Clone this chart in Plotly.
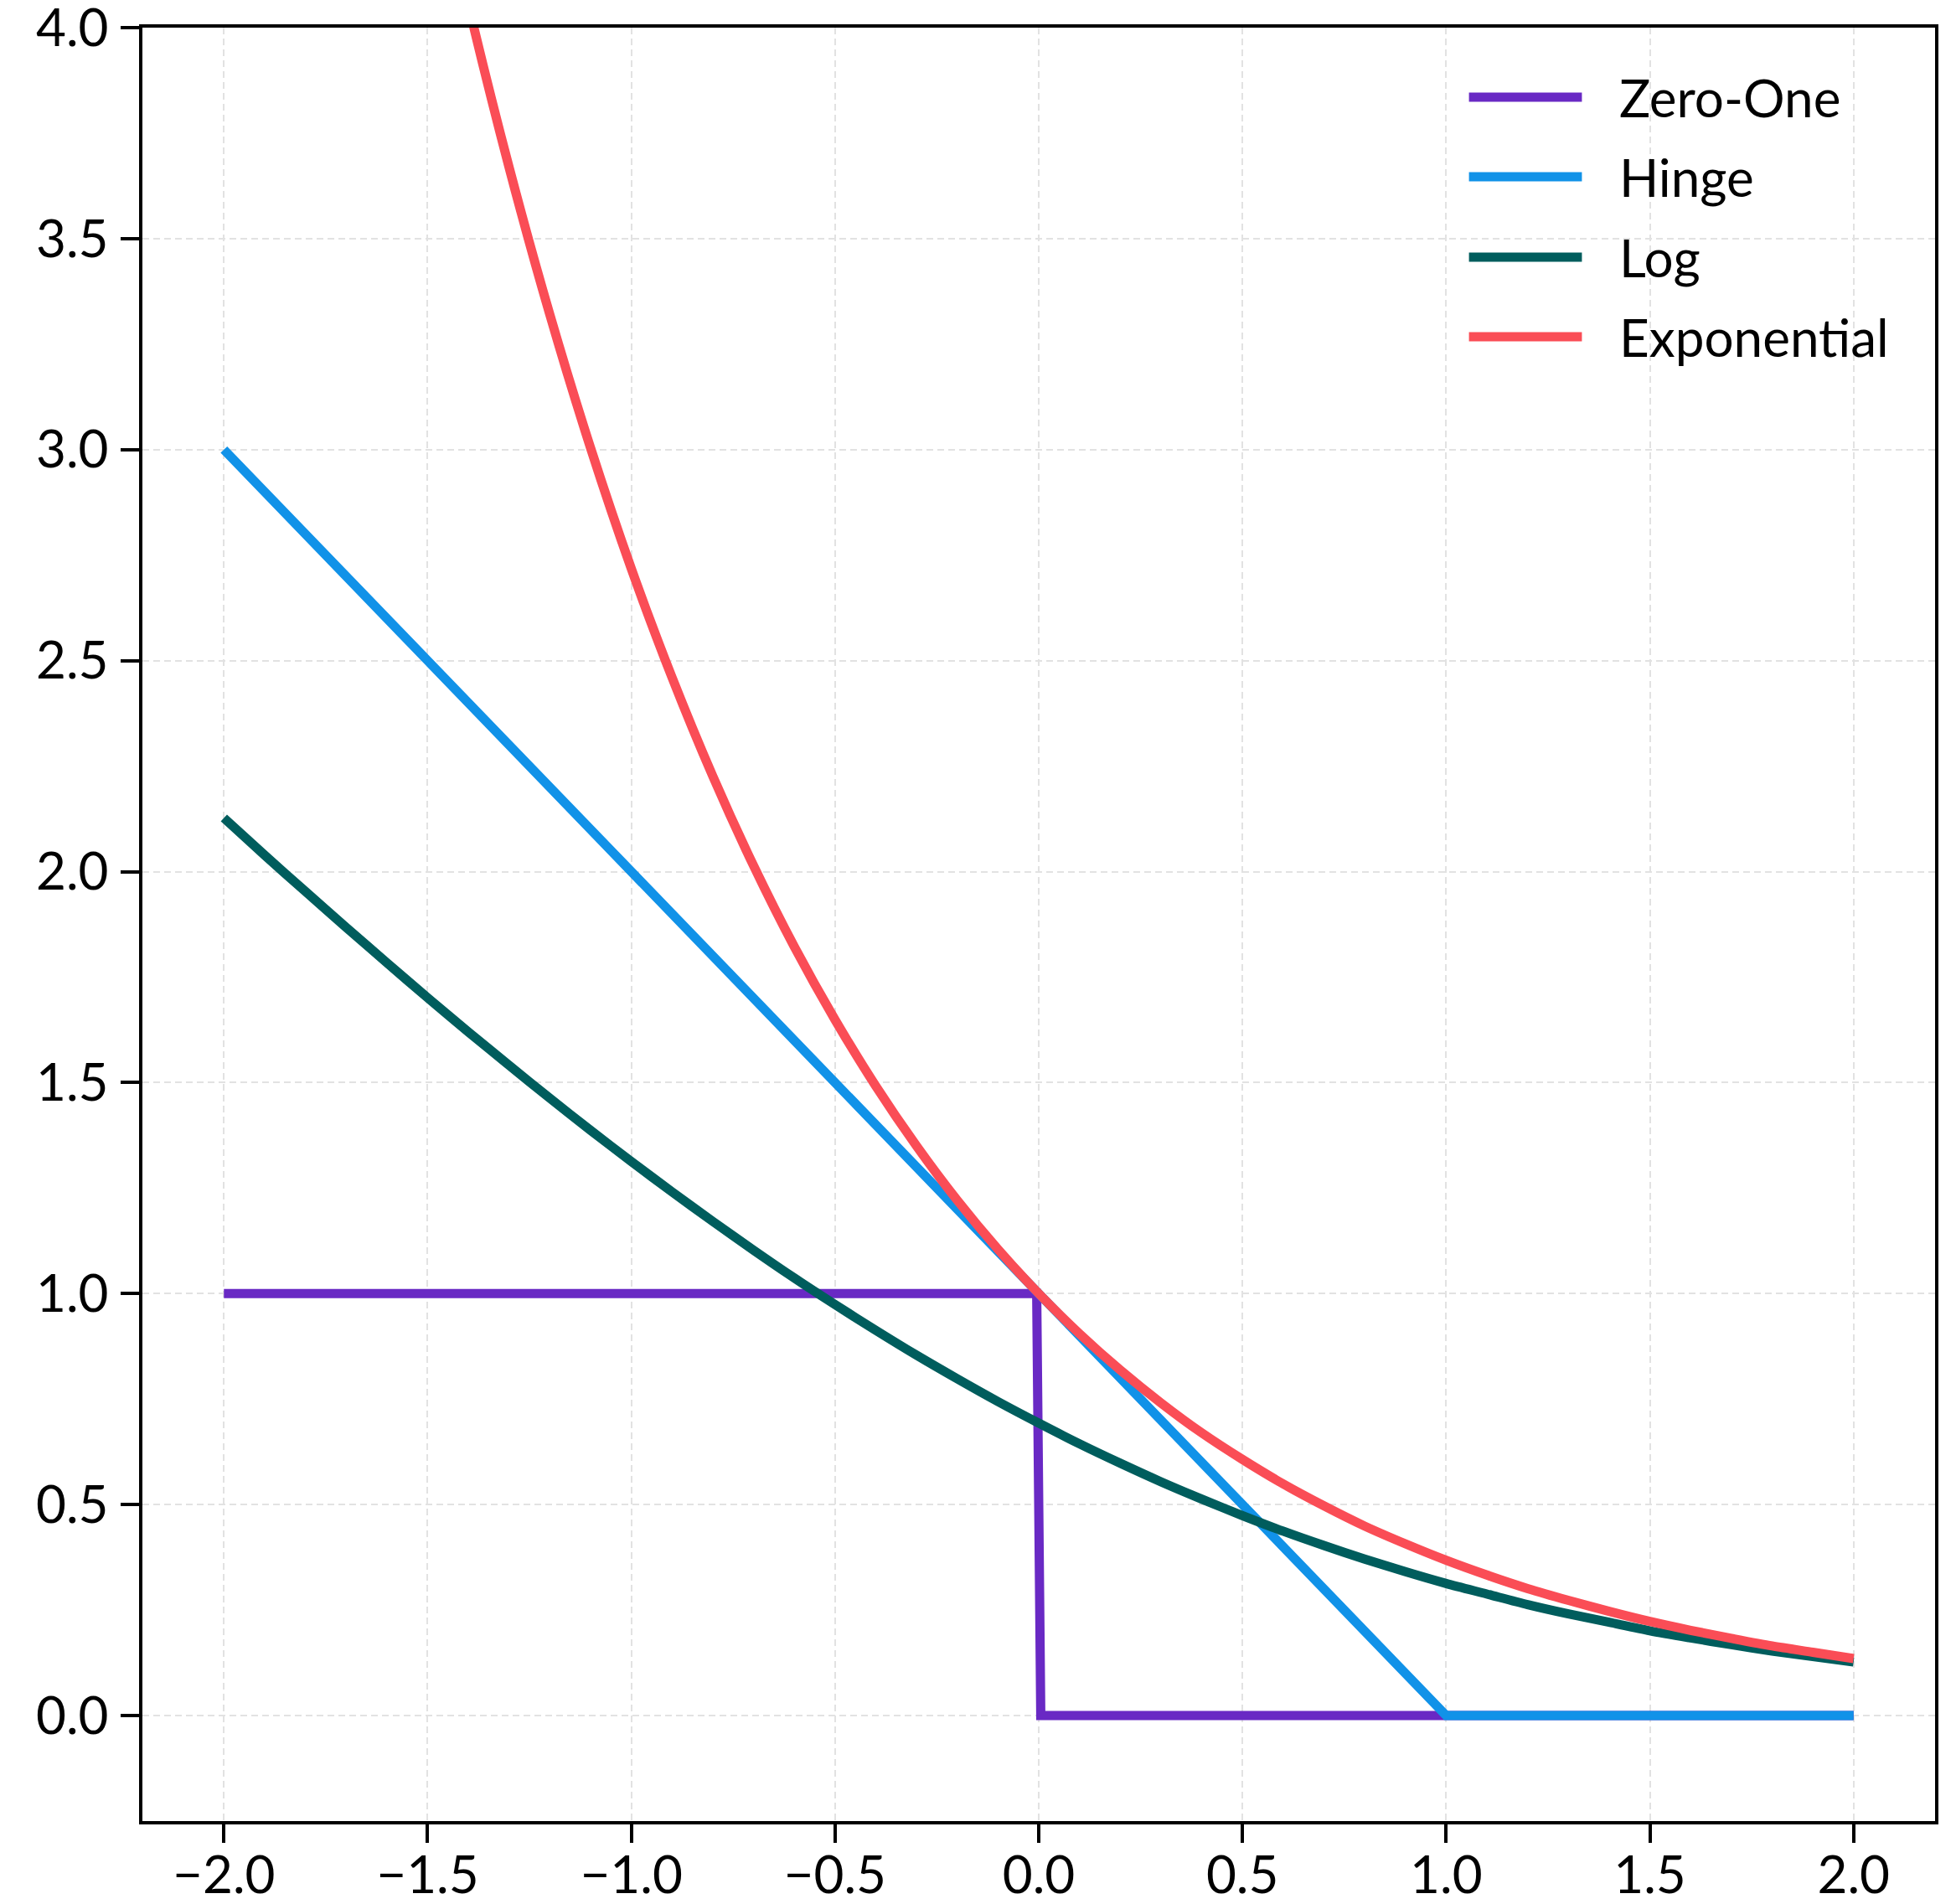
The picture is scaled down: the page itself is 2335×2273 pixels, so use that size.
import plotly.graph_objects as go

# ---- data ----
x_grid = [-2.0, -1.9, -1.8, -1.7, -1.6, -1.5, -1.4, -1.3, -1.2, -1.1, -1.0,
          -0.9, -0.8, -0.7, -0.6, -0.5, -0.4, -0.3, -0.2, -0.1, 0.0,
          0.1, 0.2, 0.3, 0.4, 0.5, 0.6, 0.7, 0.8, 0.9, 1.0,
          1.1, 1.2, 1.3, 1.4, 1.5, 1.6, 1.7, 1.8, 1.9, 2.0]

zero_one_x = [-2.0, -0.005, 0.005, 2.0]
zero_one_y = [1.0, 1.0, 0.0, 0.0]

hinge_x = [-2.0, 1.0, 2.0]
hinge_y = [3.0, 0.0, 0.0]

log_y = [2.127, 2.039, 1.953, 1.868, 1.784, 1.701, 1.620, 1.541, 1.463, 1.387, 1.313,
         1.241, 1.171, 1.103, 1.037, 0.974, 0.913, 0.854, 0.798, 0.744, 0.693,
         0.644, 0.598, 0.554, 0.513, 0.474, 0.437, 0.403, 0.371, 0.341, 0.313,
         0.288, 0.263, 0.241, 0.221, 0.201, 0.184, 0.168, 0.153, 0.140, 0.127]

exp_y = [7.389, 6.686, 6.050, 5.474, 4.953, 4.482, 4.055, 3.669, 3.320, 3.004, 2.718,
         2.460, 2.226, 2.014, 1.822, 1.649, 1.492, 1.350, 1.221, 1.105, 1.000,
         0.905, 0.819, 0.741, 0.670, 0.607, 0.549, 0.497, 0.449, 0.407, 0.368,
         0.333, 0.301, 0.273, 0.247, 0.223, 0.202, 0.183, 0.165, 0.150, 0.135]

series_names = ["Zero-One", "Hinge", "Log", "Exponential"]
series_colors = ["#6929c4", "#1192e8", "#005d5d", "#fa4d56"]
series_shapes = ["linear", "linear", "spline", "spline"]

x_ticks = [-2.0, -1.5, -1.0, -0.5, 0.0, 0.5, 1.0, 1.5, 2.0]
y_ticks = [0.0, 0.5, 1.0, 1.5, 2.0, 2.5, 3.0, 3.5, 4.0]

# ---- figure ----
W, H = 2335, 2273
FONT = "Lato"
FS = 62
LW = 11

series_xy = [
    (zero_one_x, zero_one_y),
    (hinge_x, hinge_y),
    (x_grid, log_y),
    (x_grid, exp_y),
]

fig = go.Figure()
for (xs, ys), name, col, shp in zip(series_xy, series_names, series_colors, series_shapes):
    line = dict(color=col, width=LW, shape=shp)
    if shp == "spline":
        line["smoothing"] = 0.8
    fig.add_trace(go.Scatter(x=xs, y=ys, mode="lines", name=name,
                             line=line, showlegend=False))

axis_common = dict(
    showline=True, linecolor="black", linewidth=4, mirror=True,
    ticks="outside", ticklen=22, tickwidth=4, tickcolor="black",
    showgrid=True, gridcolor="#e2e2e2", gridwidth=2, griddash="8px,5px",
    zeroline=False,
    tickfont=dict(family=FONT, size=FS, color="black"),
    tickformat=".1f",
    ticklabeloverflow="allow",
)

fig.update_xaxes(range=[-2.2, 2.2], tickvals=x_ticks, ticklabelstandoff=-14, **axis_common)
fig.update_yaxes(range=[-0.25, 4.0], tickvals=y_ticks, ticklabelstandoff=2, **axis_common)

# ---- legend (drawn in paper coordinates) ----
leg_rows = [0.9612, 0.9169, 0.8720, 0.8277]
leg_x0, leg_x1, leg_tx = 0.740, 0.803, 0.823
for name, col, yy in zip(series_names, series_colors, leg_rows):
    fig.add_shape(type="line", xref="paper", yref="paper",
                  x0=leg_x0, x1=leg_x1, y0=yy, y1=yy,
                  line=dict(color=col, width=LW))
    fig.add_annotation(x=leg_tx, y=yy, xref="paper", yref="paper",
                       text=name, showarrow=False, xanchor="left", yanchor="middle",
                       font=dict(family=FONT, size=FS, color="black"))

fig.update_layout(
    width=W, height=H,
    margin=dict(l=170, r=25, t=33, b=99, autoexpand=False),
    plot_bgcolor="white", paper_bgcolor="white",
    font=dict(family=FONT, size=FS, color="black"),
)

fig.write_html("out.html")
